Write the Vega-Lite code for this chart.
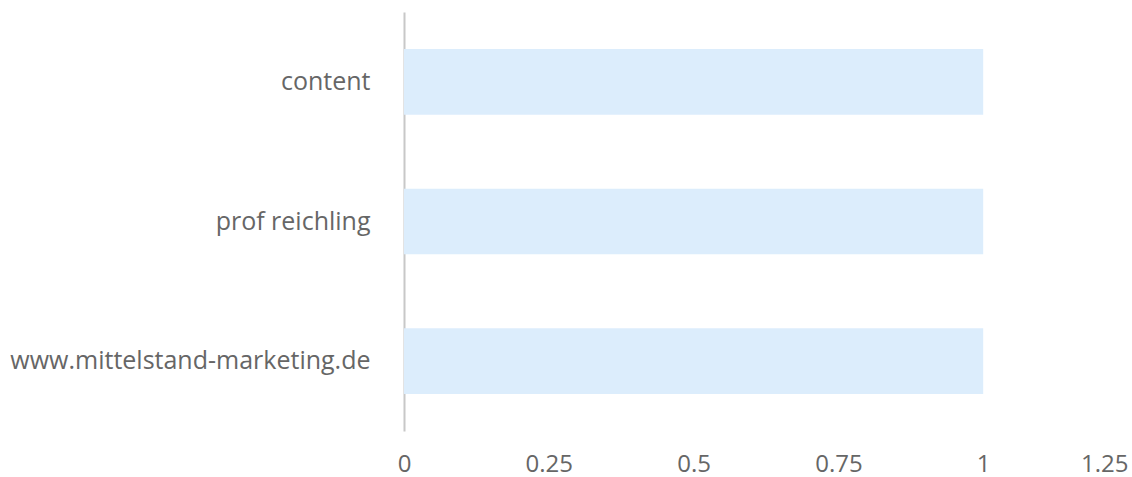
{
  "$schema": "https://vega.github.io/schema/vega-lite/v6.json",
  "width": 724,
  "height": 419,
  "autosize": {"type": "none"},
  "padding": {"left": 404, "top": 12, "right": 4, "bottom": 46},
  "background": "white",
  "config": {
    "view": {"stroke": null},
    "font": "Open Sans"
  },
  "data": {
    "values": [
      {"keyword": "content", "value": 1},
      {"keyword": "prof reichling", "value": 1},
      {"keyword": "www.mittelstand-marketing.de", "value": 1}
    ]
  },
  "mark": {"type": "bar", "color": "#dcedfc"},
  "encoding": {
    "y": {
      "field": "keyword",
      "type": "nominal",
      "sort": null,
      "scale": {"paddingInner": 0.53, "paddingOuter": 0.265},
      "axis": {
        "title": null,
        "ticks": false,
        "domainColor": "#c8c8c8",
        "domainWidth": 2,
        "labelFont": "Open Sans",
        "labelFontSize": 25,
        "labelColor": "#666666",
        "labelPadding": 34,
        "labelLimit": 500
      }
    },
    "x": {
      "field": "value",
      "type": "quantitative",
      "scale": {"domain": [0, 1.25], "nice": false},
      "axis": {
        "title": null,
        "grid": false,
        "domain": false,
        "ticks": false,
        "values": [0, 0.25, 0.5, 0.75, 1, 1.25],
        "labelExpr": "format(datum.value, '~g')",
        "labelAlign": {"expr": "datum.value == 1.25 ? 'right' : 'center'"},
        "labelFont": "Open Sans",
        "labelFontSize": 24,
        "labelColor": "#666666",
        "labelBaseline": "alphabetic",
        "labelPadding": 40,
        "labelFlush": false,
        "labelOverlap": false
      }
    }
  }
}
